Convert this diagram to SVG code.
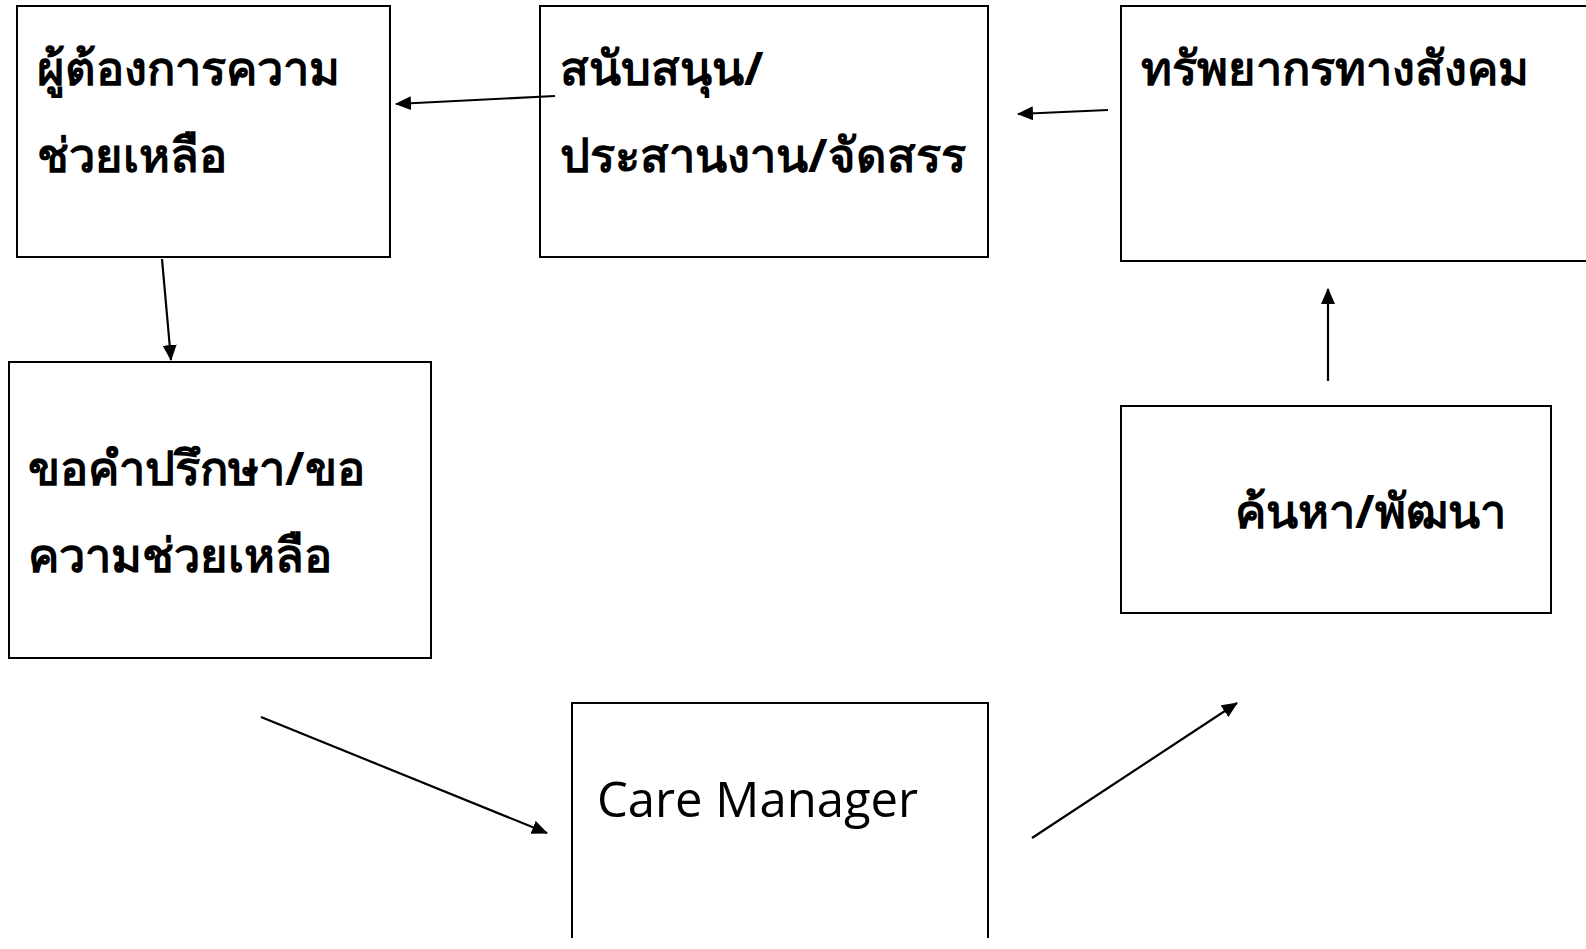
<svg xmlns="http://www.w3.org/2000/svg" width="1586" height="949" viewBox="0 0 1586 949">
<style>
.box{fill:#fff;stroke:#000;stroke-width:2}
.th{font-family:"Noto Sans","Open Sans","DejaVu Sans",sans-serif;font-size:47px;font-weight:bold;fill:#000}
.en{font-family:"Open Sans","Noto Sans",sans-serif;font-size:49px;fill:#000}
.con{stroke:#000;stroke-width:2.2;fill:none;marker-end:url(#ah)}
</style>
<defs>
<marker id="ah" viewBox="0 0 16 14" refX="15" refY="7" markerWidth="16" markerHeight="14" orient="auto" markerUnits="userSpaceOnUse">
<path d="M0,0 L16,7 L0,14 z" fill="#000"/>
</marker>
</defs>
<rect width="1586" height="949" fill="#fff"/>
<g id="n1"><rect class="box" x="17" y="6" width="373" height="251"/>
<text class="th" x="37" y="85">ผู้ต้องการความ</text>
<text class="th" x="37" y="172">ช่วยเหลือ</text></g>
<g id="n2"><rect class="box" x="540" y="6" width="448" height="251"/>
<text class="th" x="560" y="85">สนับสนุน/</text>
<text class="th" x="560" y="172">ประสานงาน/จัดสรร</text></g>
<g id="n3"><rect class="box" x="1121" y="6" width="480" height="255"/>
<text class="th" x="1141" y="85">ทรัพยากรทางสังคม</text></g>
<g id="n4"><rect class="box" x="9" y="362" width="422" height="296"/>
<text class="th" x="28" y="485">ขอคำปรึกษา/ขอ</text>
<text class="th" x="28" y="572">ความช่วยเหลือ</text></g>
<g id="n5"><rect class="box" x="1121" y="406" width="430" height="207"/>
<text class="th" x="1235" y="528">ค้นหา/พัฒนา</text></g>
<g id="n6"><path class="box" d="M572,938 V703 H988 V938"/>
<text class="en" x="597" y="817">Care Manager</text></g>
<g id="connectors">
<line class="con" x1="555" y1="96" x2="396" y2="104"/>
<line class="con" x1="1108" y1="110" x2="1018" y2="114"/>
<line class="con" x1="162" y1="259" x2="171" y2="360"/>
<line class="con" x1="261" y1="717" x2="547" y2="833"/>
<line class="con" x1="1032" y1="838" x2="1237" y2="703"/>
<line class="con" x1="1328" y1="381" x2="1328" y2="289"/>
</g>
</svg>
